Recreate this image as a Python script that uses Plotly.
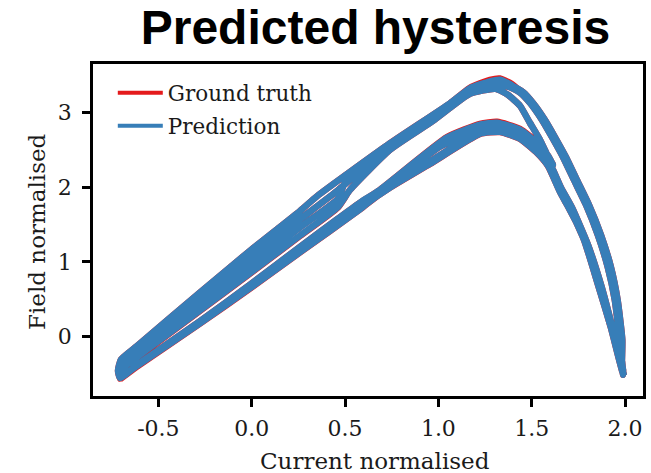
import plotly.graph_objects as go

# ---- Hysteresis sweeps (current, field), traced in time order ----
# Ascending sweep 1: lower branch, outer edge, down the right flank to I = 2.0
sweep1_current = [-0.705, -0.614, -0.277, -0.009, 0.259, 0.580, 0.687, 0.955, 1.223, 1.330,
                  1.437, 1.523, 1.587, 1.651, 1.689, 1.785, 1.855, 1.930, 1.989, 1.989]
gt_sweep1_field = [-0.575, -0.405, 0.170, 0.641, 1.125, 1.702, 1.910, 2.312, 2.715, 2.741,
                   2.648, 2.473, 2.285, 1.940, 1.766, 1.296, 0.720, 0.130, -0.446, -0.514]
pred_sweep1_field = [-0.556, -0.397, 0.176, 0.646, 1.129, 1.705, 1.913, 2.315, 2.718, 2.744,
                     2.651, 2.476, 2.288, 1.940, 1.766, 1.296, 0.720, 0.130, -0.446, -0.514]

# Descending sweep 1: outer right flank up to the main peak, upper branch back down
sweep2_current = [1.973, 1.946, 1.908, 1.855, 1.791, 1.726, 1.667, 1.608, 1.555, 1.491,
                  1.437, 1.383, 1.330, 1.276, 1.169, 1.062, 0.741, 0.350, 0.259, -0.009,
                  -0.277, -0.614, -0.700, -0.716]
gt_sweep2_field = [-0.048, 0.488, 0.931, 1.360, 1.762, 2.098, 2.406, 2.674, 2.902, 3.137,
                   3.290, 3.400, 3.458, 3.440, 3.335, 3.126, 2.590, 1.879, 1.682, 1.149,
                   0.589, -0.129, -0.310, -0.460]
pred_sweep2_field = [-0.048, 0.488, 0.931, 1.360, 1.762, 2.098, 2.406, 2.674, 2.902, 3.130,
                     3.277, 3.385, 3.441, 3.421, 3.327, 3.126, 2.590, 1.879, 1.682, 1.149,
                     0.589, -0.129, -0.310, -0.460]

# Ascending sweep 2: lower branch, inner edge, reversing at I = 1.61
sweep3_current = [-0.705, -0.614, -0.277, -0.009, 0.259, 0.462, 0.580, 0.687, 1.046, 1.223,
                  1.314, 1.437, 1.528, 1.587, 1.614]
gt_sweep3_field = [-0.560, -0.384, 0.203, 0.693, 1.202, 1.578, 1.793, 1.966, 2.672, 2.850,
                   2.878, 2.784, 2.603, 2.423, 2.302]
pred_sweep3_field = [-0.556, -0.384, 0.203, 0.693, 1.202, 1.578, 1.793, 1.966, 2.665, 2.839,
                     2.866, 2.772, 2.597, 2.423, 2.302]

# Descending sweep 2: inner right branch, upper branch with the minor reversal near I = 0.46
sweep4_current = [1.580, 1.544, 1.490, 1.437, 1.372, 1.306, 1.169, 0.971, 0.741, 0.527, 0.462,
                  0.259, -0.009, -0.277, -0.614, -0.695]
gt_sweep4_field = [2.449, 2.637, 2.865, 3.093, 3.240, 3.320, 3.254, 2.890, 2.503, 1.966, 1.729,
                   1.346, 0.840, 0.340, -0.284, -0.447]
pred_sweep4_field = [2.449, 2.637, 2.865, 3.093, 3.240, 3.320, 3.254, 2.890, 2.503, 1.966, 1.736,
                     1.353, 0.847, 0.347, -0.277, -0.440]

# Ascending sweep 3: lower branch, middle, full excursion to I = 2.0
sweep5_current = [-0.705, -0.614, -0.277, -0.009, 0.259, 0.580, 0.687, 1.008, 1.223, 1.314,
                  1.437, 1.528, 1.598, 1.657, 1.716, 1.801, 1.871, 1.935, 1.989]
gt_sweep5_field = [-0.568, -0.395, 0.186, 0.665, 1.162, 1.747, 1.935, 2.545, 2.778, 2.804,
                   2.711, 2.536, 2.315, 1.993, 1.725, 1.229, 0.693, 0.090, -0.473]
pred_sweep5_field = [-0.560, -0.390, 0.190, 0.669, 1.166, 1.750, 1.938, 2.545, 2.778, 2.804,
                     2.711, 2.536, 2.315, 1.993, 1.725, 1.229, 0.693, 0.090, -0.473]

# Descending sweep 3
sweep6_current = [1.983, 1.985, 1.960, 1.924, 1.871, 1.807, 1.742, 1.683, 1.624, 1.571, 1.507,
                  1.453, 1.394, 1.330, 1.276, 1.169, 1.062, 0.741, 0.462, 0.259, -0.009,
                  -0.277, -0.614, -0.700]
sweep6_field = [-0.419, -0.048, 0.488, 0.931, 1.360, 1.762, 2.098, 2.406, 2.674, 2.902, 3.130,
                3.277, 3.361, 3.387, 3.374, 3.294, 3.093, 2.560, 1.960, 1.572, 1.048,
                0.508, -0.178, -0.380]

# Ascending sweep 4
sweep7_current = [-0.705, -0.614, -0.277, -0.009, 0.259, 0.580, 0.955, 1.223, 1.330, 1.437,
                  1.544, 1.625, 1.683, 1.780, 1.855, 1.924, 1.989]
sweep7_field = [-0.545, -0.392, 0.185, 0.660, 1.150, 1.725, 2.342, 2.758, 2.771, 2.677,
                2.449, 2.167, 1.833, 1.296, 0.693, 0.117, -0.500]

# Descending sweep 4
sweep8_current = [1.971, 1.945, 1.907, 1.854, 1.791, 1.726, 1.667, 1.608, 1.555, 1.491,
                  1.437, 1.378, 1.303, 1.169, 1.062, 0.741, 0.500, 0.462, 0.259, -0.009,
                  -0.277, -0.614, -0.700, -0.705]
sweep8_field = [-0.048, 0.488, 0.931, 1.360, 1.762, 2.098, 2.406, 2.674, 2.902, 3.130,
                3.270, 3.347, 3.361, 3.280, 3.106, 2.532, 2.060, 1.847, 1.463, 0.948,
                0.428, -0.227, -0.420, -0.554]

current = (sweep1_current + sweep2_current + sweep3_current + sweep4_current
           + sweep5_current + sweep6_current + sweep7_current + sweep8_current)
gt_field = (gt_sweep1_field + gt_sweep2_field + gt_sweep3_field + gt_sweep4_field
            + gt_sweep5_field + sweep6_field + sweep7_field + sweep8_field)
pred_field = (pred_sweep1_field + pred_sweep2_field + pred_sweep3_field + pred_sweep4_field
              + pred_sweep5_field + sweep6_field + sweep7_field + sweep8_field)

x_ticks = [-0.5, 0.0, 0.5, 1.0, 1.5, 2.0]
x_tick_labels = ["-0.5", "0.0", "0.5", "1.0", "1.5", "2.0"]
y_ticks = [0, 1, 2, 3]
y_tick_labels = ["0", "1", "2", "3"]

RED = "#e41a1c"
BLUE = "#377eb8"
INK = "#1a1a1a"
SERIF = "DejaVu Serif"
LINE_W = 6.5

fig = go.Figure()
fig.add_trace(go.Scatter(x=current, y=gt_field, mode="lines",
                         line=dict(color=RED, width=LINE_W, shape="spline", smoothing=0.5),
                         showlegend=False, hoverinfo="skip"))
fig.add_trace(go.Scatter(x=current, y=pred_field, mode="lines",
                         line=dict(color=BLUE, width=LINE_W, shape="spline", smoothing=0.5),
                         showlegend=False, hoverinfo="skip"))
# legend keys
fig.add_trace(go.Scatter(x=[None], y=[None], mode="lines", name="Ground truth",
                         line=dict(color=RED, width=4), legendgroup="gt"))
fig.add_trace(go.Scatter(x=[None], y=[None], mode="lines", name="Prediction",
                         line=dict(color=BLUE, width=4), legendgroup="pred"))

axis_common = dict(
    showline=True, linecolor="black", linewidth=2.5, mirror=True,
    ticks="outside", ticklen=8, tickwidth=2.5, tickcolor="black",
    showgrid=False, zeroline=False, automargin=False,
    tickfont=dict(family=SERIF, size=22, color=INK),
)

# plot area spans x 93..643 px, y 64..396 px
fig.update_layout(
    width=651, height=473,
    margin=dict(l=93, r=8, t=64, b=77),
    paper_bgcolor="white", plot_bgcolor="white",
    title=dict(text="<b>Predicted hysteresis</b>",
               font=dict(family="Liberation Sans", size=48, color="black"),
               x=375.5 / 651, xref="container", xanchor="center",
               y=1 - 27 / 473, yref="container", yanchor="middle"),
    legend=dict(x=0.036, y=0.975, xanchor="left", yanchor="top",
                font=dict(family=SERIF, size=21.5, color=INK),
                bgcolor="rgba(0,0,0,0)", tracegroupgap=2, itemwidth=45),
    xaxis=dict(range=[-0.850, 2.096], tickvals=x_ticks, ticktext=x_tick_labels,
               ticklabelstandoff=3, **axis_common),
    yaxis=dict(range=[-0.80, 3.653], tickvals=y_ticks, ticktext=y_tick_labels,
               ticklabelstandoff=6, **axis_common),
    annotations=[
        dict(text="Current normalised", xref="paper", yref="paper",
             x=(375 - 93) / 550, y=(396 - 461) / 332, xanchor="center", yanchor="middle",
             showarrow=False, font=dict(family=SERIF, size=23, color=INK)),
        dict(text="Field normalised", xref="paper", yref="paper",
             x=(37 - 93) / 550, y=(396 - 232) / 332, xanchor="center", yanchor="middle",
             textangle=-90, showarrow=False, font=dict(family=SERIF, size=23, color=INK)),
    ],
)

fig.write_html("out.html")
